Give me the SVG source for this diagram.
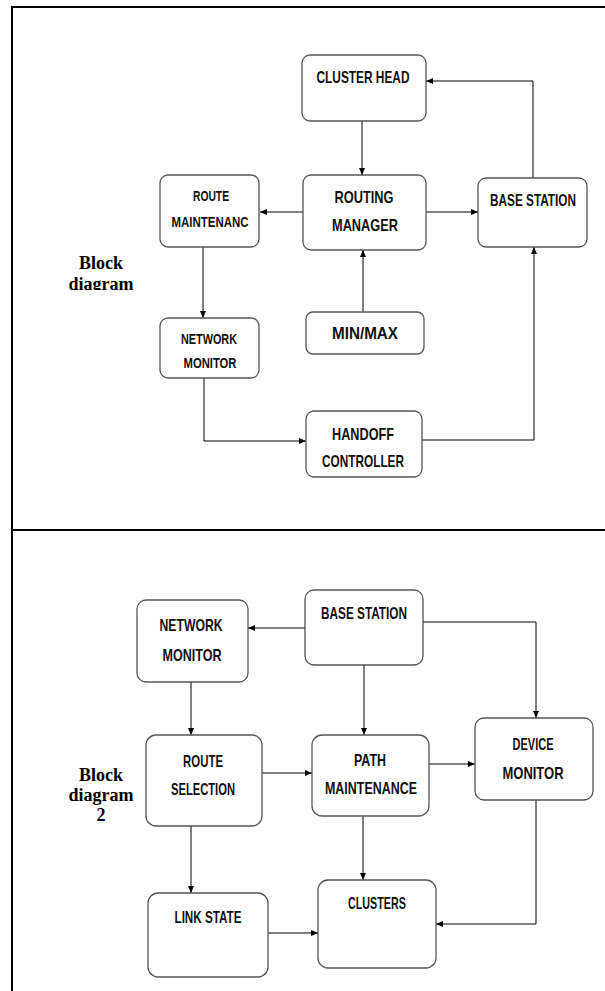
<svg xmlns="http://www.w3.org/2000/svg" width="605" height="991" viewBox="0 0 605 991">
<style>
.box{fill:#fff;stroke:#555;stroke-width:1.3}
.t{font-family:"Liberation Sans",Arial,sans-serif;font-weight:bold;font-size:17px;fill:#111;text-anchor:middle}
.s{font-size:14px}
.lbl{font-family:"Liberation Serif","Times New Roman",serif;font-weight:bold;font-size:18px;fill:#000;text-anchor:middle}
.c{fill:none;stroke:#000;stroke-width:1}
.frame{fill:none;stroke:#000;stroke-width:2}
</style>
<defs>
<marker id="ah" markerWidth="8" markerHeight="6" refX="7" refY="3" orient="auto" markerUnits="userSpaceOnUse">
<path d="M0,0 L7,3 L0,6 Z" fill="#000"/>
</marker>
<clipPath id="clipTop"><rect x="0" y="0" width="605" height="290"/></clipPath>
</defs>
<rect width="605" height="991" fill="#fff"/>
<g id="frame">
<path class="frame" d="M606,7 H12 V992"/>
<path class="frame" d="M12,530 H606"/>
</g>
<g id="connectors">
<path class="c" d="M362,121 V175" marker-end="url(#ah)"/>
<path class="c" d="M303,212 H260" marker-end="url(#ah)"/>
<path class="c" d="M426,212 H478" marker-end="url(#ah)"/>
<path class="c" d="M533,178 V81 H426" marker-end="url(#ah)"/>
<path class="c" d="M203,247 V318" marker-end="url(#ah)"/>
<path class="c" d="M363,312 V250" marker-end="url(#ah)"/>
<path class="c" d="M204,378 V441 H306" marker-end="url(#ah)"/>
<path class="c" d="M421,440 H534 V247" marker-end="url(#ah)"/>
<path class="c" d="M305,628 H248" marker-end="url(#ah)"/>
<path class="c" d="M423,622 H536 V718" marker-end="url(#ah)"/>
<path class="c" d="M191,682 V735" marker-end="url(#ah)"/>
<path class="c" d="M364,665 V735" marker-end="url(#ah)"/>
<path class="c" d="M262,773 H312" marker-end="url(#ah)"/>
<path class="c" d="M429,764 H475" marker-end="url(#ah)"/>
<path class="c" d="M191,826 V893" marker-end="url(#ah)"/>
<path class="c" d="M363,816 V880" marker-end="url(#ah)"/>
<path class="c" d="M268,933 H318" marker-end="url(#ah)"/>
<path class="c" d="M536,800 V924 H436" marker-end="url(#ah)"/>
</g>
<g id="label1">
<text class="lbl" x="101" y="269">Block</text>
<text class="lbl" x="101" y="290" clip-path="url(#clipTop)">diagram</text>
</g>
<g id="clusterHead">
<rect class="box" x="302" y="55" width="124" height="66" rx="8"/>
<text class="t" x="363" y="83" textLength="93" lengthAdjust="spacingAndGlyphs">CLUSTER HEAD</text>
</g>
<g id="routingManager">
<rect class="box" x="303" y="175" width="123" height="75" rx="8"/>
<text class="t" x="364" y="203" textLength="59" lengthAdjust="spacingAndGlyphs">ROUTING</text>
<text class="t" x="365" y="231" textLength="66" lengthAdjust="spacingAndGlyphs">MANAGER</text>
</g>
<g id="routeMaintenance">
<rect class="box" x="160" y="175" width="99" height="72" rx="8"/>
<text class="t s" x="211" y="201" textLength="36" lengthAdjust="spacingAndGlyphs">ROUTE</text>
<text class="t s" x="210" y="227" textLength="77" lengthAdjust="spacingAndGlyphs">MAINTENANC</text>
</g>
<g id="baseStation1">
<rect class="box" x="478" y="178" width="109" height="69" rx="8"/>
<text class="t" x="533" y="206" font-size="16" textLength="86" lengthAdjust="spacingAndGlyphs">BASE STATION</text>
</g>
<g id="networkMonitor1">
<rect class="box" x="160" y="318" width="99" height="60" rx="8"/>
<text class="t s" x="209" y="344" textLength="56" lengthAdjust="spacingAndGlyphs">NETWORK</text>
<text class="t s" x="210" y="368" textLength="53" lengthAdjust="spacingAndGlyphs">MONITOR</text>
</g>
<g id="minMax">
<rect class="box" x="306" y="312" width="118" height="42" rx="7"/>
<text class="t" x="365" y="339" textLength="66" lengthAdjust="spacingAndGlyphs">MIN/MAX</text>
</g>
<g id="handoffController">
<rect class="box" x="306" y="411" width="116" height="66" rx="8"/>
<text class="t" x="363" y="440" textLength="62" lengthAdjust="spacingAndGlyphs">HANDOFF</text>
<text class="t" x="363" y="467" textLength="82" lengthAdjust="spacingAndGlyphs">CONTROLLER</text>
</g>
<g id="label2">
<text class="lbl" x="101" y="781">Block</text>
<text class="lbl" x="101" y="801">diagram</text>
<text class="lbl" x="101" y="821">2</text>
</g>
<g id="networkMonitor2">
<rect class="box" x="137" y="600" width="111" height="82" rx="9"/>
<text class="t" x="191" y="631" textLength="63" lengthAdjust="spacingAndGlyphs">NETWORK</text>
<text class="t" x="192" y="661" textLength="59" lengthAdjust="spacingAndGlyphs">MONITOR</text>
</g>
<g id="baseStation2">
<rect class="box" x="305" y="590" width="118" height="75" rx="9"/>
<text class="t" x="364" y="619" textLength="86" lengthAdjust="spacingAndGlyphs">BASE STATION</text>
</g>
<g id="deviceMonitor">
<rect class="box" x="475" y="718" width="118" height="82" rx="9"/>
<text class="t" x="533" y="750" textLength="41" lengthAdjust="spacingAndGlyphs">DEVICE</text>
<text class="t" x="533" y="779" textLength="61" lengthAdjust="spacingAndGlyphs">MONITOR</text>
</g>
<g id="routeSelection">
<rect class="box" x="146" y="735" width="116" height="91" rx="10"/>
<text class="t" x="203" y="767" textLength="40" lengthAdjust="spacingAndGlyphs">ROUTE</text>
<text class="t" x="203" y="795" textLength="64" lengthAdjust="spacingAndGlyphs">SELECTION</text>
</g>
<g id="pathMaintenance">
<rect class="box" x="312" y="735" width="117" height="81" rx="10"/>
<text class="t" x="370" y="766" textLength="32" lengthAdjust="spacingAndGlyphs">PATH</text>
<text class="t" x="371" y="794" textLength="92" lengthAdjust="spacingAndGlyphs">MAINTENANCE</text>
</g>
<g id="linkState">
<rect class="box" x="148" y="893" width="120" height="84" rx="10"/>
<text class="t" x="208" y="923" textLength="67" lengthAdjust="spacingAndGlyphs">LINK STATE</text>
</g>
<g id="clusters">
<rect class="box" x="318" y="880" width="118" height="88" rx="10"/>
<text class="t" x="377" y="909" textLength="58" lengthAdjust="spacingAndGlyphs">CLUSTERS</text>
</g>
</svg>
